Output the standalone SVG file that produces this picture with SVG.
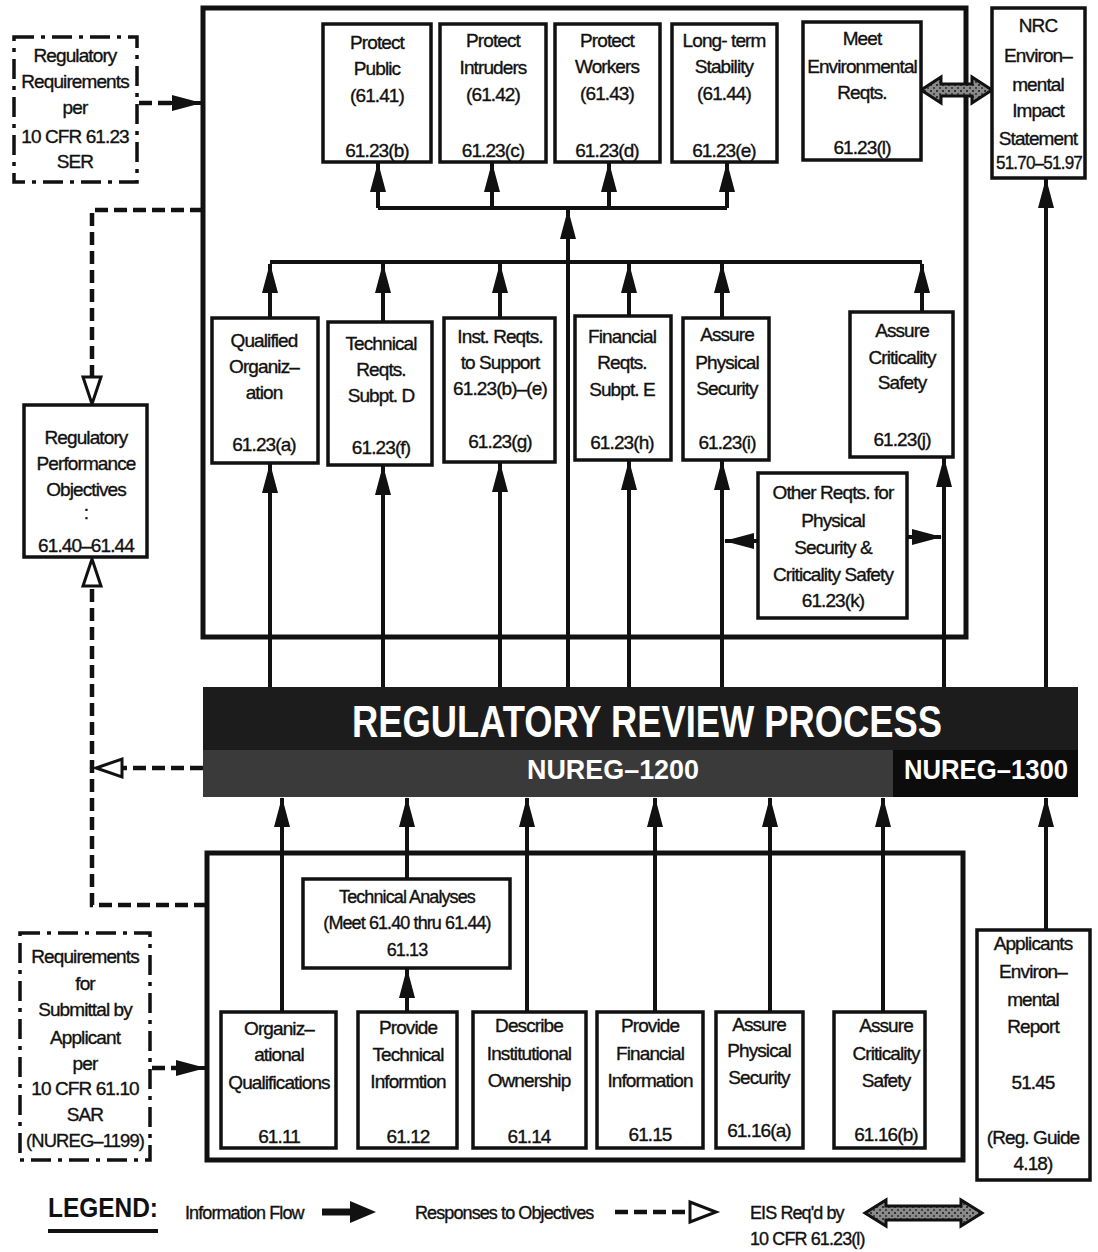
<svg xmlns="http://www.w3.org/2000/svg" width="1098" height="1252" viewBox="0 0 1098 1252">
<style>
.t{font-family:"Liberation Sans Narrow","Liberation Sans",Arial,sans-serif;font-size:19px;text-anchor:middle;fill:#111;stroke:#111;stroke-width:0.35;letter-spacing:-0.9px}
.box{fill:#fff;stroke:#111;stroke-width:3.5}
.big{fill:none;stroke:#111;stroke-width:5}
.dd{fill:#fff;stroke:#111;stroke-width:3.5;stroke-dasharray:20 7 4 7}
.ln{fill:none;stroke:#111;stroke-width:4}
.dl{fill:none;stroke:#111;stroke-width:4.5;stroke-dasharray:13 6}
.hh{fill:#fff;stroke:#111;stroke-width:3}
.eis{fill:url(#spk);stroke:#111;stroke-width:3}
.bw{font-family:"Liberation Sans",Arial,sans-serif;font-weight:bold;fill:#fff;text-anchor:middle}
</style>
<defs>
<marker id="ah" markerUnits="userSpaceOnUse" viewBox="0 0 30 16" markerWidth="30" markerHeight="16" refX="29" refY="8" orient="auto">
<path d="M0,0 L30,8 L0,16 z" fill="#111"/>
</marker>
<pattern id="spk" width="6" height="6" patternUnits="userSpaceOnUse">
<rect width="6" height="6" fill="#8a8a8a"/>
<rect x="0" y="0" width="2" height="2" fill="#333"/>
<rect x="3" y="3" width="2" height="2" fill="#444"/>
</pattern>
</defs>
<rect width="1098" height="1252" fill="#fff"/>

<rect id="upper-frame" class="big" x="203" y="8" width="763" height="629"/>
<rect id="lower-frame" class="big" x="207" y="853" width="756" height="307"/>

<g id="connectors">
<line class="ln" x1="378" y1="208" x2="727" y2="208"/>
<line class="ln" x1="378" y1="208" x2="378" y2="163" marker-end="url(#ah)"/>
<line class="ln" x1="492" y1="208" x2="492" y2="163" marker-end="url(#ah)"/>
<line class="ln" x1="609" y1="208" x2="609" y2="163" marker-end="url(#ah)"/>
<line class="ln" x1="727" y1="208" x2="727" y2="163" marker-end="url(#ah)"/>
<line class="ln" x1="568" y1="687" x2="568" y2="210" marker-end="url(#ah)"/>
<line class="ln" x1="270" y1="262" x2="922" y2="262"/>
<line class="ln" x1="270" y1="318" x2="270" y2="264" marker-end="url(#ah)"/>
<line class="ln" x1="383" y1="322" x2="383" y2="264" marker-end="url(#ah)"/>
<line class="ln" x1="500" y1="318" x2="500" y2="264" marker-end="url(#ah)"/>
<line class="ln" x1="629" y1="316" x2="629" y2="264" marker-end="url(#ah)"/>
<line class="ln" x1="722" y1="318" x2="722" y2="264" marker-end="url(#ah)"/>
<line class="ln" x1="922" y1="312" x2="922" y2="264" marker-end="url(#ah)"/>
<line class="ln" x1="270" y1="687" x2="270" y2="464" marker-end="url(#ah)"/>
<line class="ln" x1="383" y1="687" x2="383" y2="466" marker-end="url(#ah)"/>
<line class="ln" x1="500" y1="687" x2="500" y2="463" marker-end="url(#ah)"/>
<line class="ln" x1="629" y1="687" x2="629" y2="461" marker-end="url(#ah)"/>
<line class="ln" x1="722" y1="687" x2="722" y2="461" marker-end="url(#ah)"/>
<line class="ln" x1="944" y1="687" x2="944" y2="458" marker-end="url(#ah)"/>
<line class="ln" x1="1046" y1="687" x2="1046" y2="179" marker-end="url(#ah)"/>
<line class="ln" x1="758" y1="541" x2="725" y2="541" marker-end="url(#ah)"/>
<line class="ln" x1="907" y1="537" x2="941" y2="537" marker-end="url(#ah)"/>
<line class="ln" x1="282" y1="1012" x2="282" y2="798" marker-end="url(#ah)"/>
<line class="ln" x1="407" y1="879" x2="407" y2="798" marker-end="url(#ah)"/>
<line class="ln" x1="407" y1="1012" x2="407" y2="969" marker-end="url(#ah)"/>
<line class="ln" x1="527" y1="1012" x2="527" y2="798" marker-end="url(#ah)"/>
<line class="ln" x1="655" y1="1012" x2="655" y2="798" marker-end="url(#ah)"/>
<line class="ln" x1="770" y1="1012" x2="770" y2="798" marker-end="url(#ah)"/>
<line class="ln" x1="883" y1="1012" x2="883" y2="798" marker-end="url(#ah)"/>
<line class="ln" x1="1046" y1="930" x2="1046" y2="798" marker-end="url(#ah)"/>
<line class="dl" x1="139" y1="103" x2="172" y2="103"/>
<line class="ln" x1="170" y1="103" x2="201" y2="103" marker-end="url(#ah)"/>
<path class="dl" d="M203,210 L92,210 L92,377"/>
<polygon class="hh" points="83,377 101,377 92,404"/>
<path class="dl" d="M207,905 L92,905 L92,586"/>
<polygon class="hh" points="83,586 101,586 92,559"/>
<line class="dl" x1="203" y1="768" x2="122" y2="768"/>
<polygon class="hh" points="122,759 122,777 96,768"/>
<line class="dl" x1="152" y1="1068" x2="180" y2="1068"/>
<line class="ln" x1="178" y1="1068" x2="205" y2="1068" marker-end="url(#ah)"/>
<polygon class="eis" points="921,90 941,77 941,84 972,84 972,77 992,90 972,103 972,96 941,96 941,103"/>
</g>

<g id="reg-req">
<rect class="dd" x="14" y="37" width="123" height="145"/>
<text class="t" x="75" y="62">Regulatory</text>
<text class="t" x="75" y="88">Requirements</text>
<text class="t" x="75" y="114">per</text>
<text class="t" x="75" y="143">10 CFR 61.23</text>
<text class="t" x="75" y="168">SER</text>
</g>

<g id="protect-public">
<rect class="box" x="323" y="24" width="108" height="138"/>
<text class="t" x="377" y="49">Protect</text>
<text class="t" x="377" y="75">Public</text>
<text class="t" x="377" y="102">(61.41)</text>
<text class="t" x="377" y="157">61.23(b)</text>
</g>
<g id="protect-intruders">
<rect class="box" x="440" y="24" width="106" height="138"/>
<text class="t" x="493" y="47">Protect</text>
<text class="t" x="493" y="74">Intruders</text>
<text class="t" x="493" y="101">(61.42)</text>
<text class="t" x="493" y="157">61.23(c)</text>
</g>
<g id="protect-workers">
<rect class="box" x="555" y="24" width="105" height="138"/>
<text class="t" x="607" y="47">Protect</text>
<text class="t" x="607" y="73">Workers</text>
<text class="t" x="607" y="100">(61.43)</text>
<text class="t" x="607" y="157">61.23(d)</text>
</g>
<g id="long-term">
<rect class="box" x="672" y="24" width="105" height="138"/>
<text class="t" x="724" y="47">Long- term</text>
<text class="t" x="724" y="73">Stability</text>
<text class="t" x="724" y="100">(61.44)</text>
<text class="t" x="724" y="157">61.23(e)</text>
</g>
<g id="meet-env">
<rect class="box" x="803" y="22" width="118" height="138"/>
<text class="t" x="862" y="45">Meet</text>
<text class="t" x="862" y="73">Environmental</text>
<text class="t" x="862" y="99">Reqts.</text>
<text class="t" x="862" y="154">61.23(l)</text>
</g>
<g id="nrc-eis">
<rect class="box" x="992" y="8" width="93" height="170"/>
<text class="t" x="1038" y="32">NRC</text>
<text class="t" x="1038" y="62">Environ–</text>
<text class="t" x="1038" y="91">mental</text>
<text class="t" x="1038" y="117">Impact</text>
<text class="t" x="1038" y="145">Statement</text>
<text class="t" x="1039" y="169" textLength="86" lengthAdjust="spacingAndGlyphs">51.70–51.97</text>
</g>

<g id="reg-perf">
<rect class="box" x="24" y="405" width="123" height="152"/>
<text class="t" x="86" y="444">Regulatory</text>
<text class="t" x="86" y="470">Performance</text>
<text class="t" x="86" y="496">Objectives</text>
<text class="t" x="86" y="519">:</text>
<text class="t" x="86" y="552">61.40–61.44</text>
</g>

<g id="qualified-org">
<rect class="box" x="212" y="318" width="106" height="145"/>
<text class="t" x="264" y="347">Qualified</text>
<text class="t" x="264" y="373">Organiz–</text>
<text class="t" x="264" y="399">ation</text>
<text class="t" x="264" y="451">61.23(a)</text>
</g>
<g id="technical-reqts">
<rect class="box" x="328" y="322" width="104" height="143"/>
<text class="t" x="381" y="350">Technical</text>
<text class="t" x="381" y="376">Reqts.</text>
<text class="t" x="381" y="402">Subpt. D</text>
<text class="t" x="381" y="454">61.23(f)</text>
</g>
<g id="inst-reqts">
<rect class="box" x="444" y="318" width="111" height="144"/>
<text class="t" x="500" y="343">Inst. Reqts.</text>
<text class="t" x="500" y="369">to Support</text>
<text class="t" x="500" y="395">61.23(b)–(e)</text>
<text class="t" x="500" y="448">61.23(g)</text>
</g>
<g id="financial-reqts">
<rect class="box" x="575" y="316" width="96" height="144"/>
<text class="t" x="622" y="343">Financial</text>
<text class="t" x="622" y="369">Reqts.</text>
<text class="t" x="622" y="396">Subpt. E</text>
<text class="t" x="622" y="449">61.23(h)</text>
</g>
<g id="assure-phys">
<rect class="box" x="683" y="318" width="86" height="142"/>
<text class="t" x="727" y="341">Assure</text>
<text class="t" x="727" y="369">Physical</text>
<text class="t" x="727" y="395">Security</text>
<text class="t" x="727" y="449">61.23(i)</text>
</g>
<g id="assure-crit">
<rect class="box" x="850" y="312" width="103" height="145"/>
<text class="t" x="902" y="337">Assure</text>
<text class="t" x="902" y="364">Criticality</text>
<text class="t" x="902" y="389">Safety</text>
<text class="t" x="902" y="446">61.23(j)</text>
</g>
<g id="other-reqts">
<rect class="box" x="758" y="473" width="149" height="145"/>
<text class="t" x="833" y="499">Other Reqts. for</text>
<text class="t" x="833" y="527">Physical</text>
<text class="t" x="833" y="554">Security &amp;</text>
<text class="t" x="833" y="581">Criticality Safety</text>
<text class="t" x="833" y="607">61.23(k)</text>
</g>

<g id="review-process">
<rect x="203" y="687" width="875" height="110" fill="#1c1c1c"/>
<rect x="203" y="750" width="690" height="47" fill="#3a3a3a"/>
<rect x="893" y="750" width="185" height="47" fill="#0c0c0c"/>
<text class="bw" x="647" y="737" textLength="590" lengthAdjust="spacingAndGlyphs" style="font-size:44px">REGULATORY REVIEW PROCESS</text>
<text class="bw" x="613" y="779" textLength="172" lengthAdjust="spacingAndGlyphs" style="font-size:28px">NUREG–1200</text>
<text class="bw" x="986" y="779" textLength="164" lengthAdjust="spacingAndGlyphs" style="font-size:28px">NUREG–1300</text>
</g>

<g id="tech-analyses">
<rect class="box" x="303" y="879" width="207" height="89"/>
<text class="t" x="407" y="903" style="font-size:18px">Technical Analyses</text>
<text class="t" x="407" y="929" style="font-size:18px">(Meet 61.40 thru 61.44)</text>
<text class="t" x="407" y="956" style="font-size:18px">61.13</text>
</g>

<g id="org-qual">
<rect class="box" x="221" y="1012" width="115" height="136"/>
<text class="t" x="279" y="1035">Organiz–</text>
<text class="t" x="279" y="1061">ational</text>
<text class="t" x="279" y="1089">Qualifications</text>
<text class="t" x="279" y="1143">61.11</text>
</g>
<g id="prov-tech">
<rect class="box" x="358" y="1012" width="99" height="136"/>
<text class="t" x="408" y="1034">Provide</text>
<text class="t" x="408" y="1061">Technical</text>
<text class="t" x="408" y="1088">Informtion</text>
<text class="t" x="408" y="1143">61.12</text>
</g>
<g id="describe-inst">
<rect class="box" x="473" y="1012" width="113" height="136"/>
<text class="t" x="529" y="1032">Describe</text>
<text class="t" x="529" y="1060">Institutional</text>
<text class="t" x="529" y="1087">Ownership</text>
<text class="t" x="529" y="1143">61.14</text>
</g>
<g id="prov-fin">
<rect class="box" x="597" y="1012" width="106" height="136"/>
<text class="t" x="650" y="1032">Provide</text>
<text class="t" x="650" y="1060">Financial</text>
<text class="t" x="650" y="1087">Information</text>
<text class="t" x="650" y="1141">61.15</text>
</g>
<g id="assure-phys-2">
<rect class="box" x="716" y="1012" width="87" height="136"/>
<text class="t" x="759" y="1031">Assure</text>
<text class="t" x="759" y="1057">Physical</text>
<text class="t" x="759" y="1084">Security</text>
<text class="t" x="759" y="1137">61.16(a)</text>
</g>
<g id="assure-crit-2">
<rect class="box" x="834" y="1012" width="91" height="136"/>
<text class="t" x="886" y="1032">Assure</text>
<text class="t" x="886" y="1060">Criticality</text>
<text class="t" x="886" y="1087">Safety</text>
<text class="t" x="886" y="1141">61.16(b)</text>
</g>

<g id="applicant-env">
<rect class="box" x="977" y="930" width="113" height="250"/>
<text class="t" x="1033" y="950">Applicants</text>
<text class="t" x="1033" y="978">Environ–</text>
<text class="t" x="1033" y="1006">mental</text>
<text class="t" x="1033" y="1033">Report</text>
<text class="t" x="1033" y="1089">51.45</text>
<text class="t" x="1033" y="1144">(Reg. Guide</text>
<text class="t" x="1033" y="1170">4.18)</text>
</g>

<g id="req-submittal">
<rect class="dd" x="20" y="933" width="130" height="227"/>
<text class="t" x="85" y="963">Requirements</text>
<text class="t" x="85" y="990">for</text>
<text class="t" x="85" y="1016">Submittal by</text>
<text class="t" x="85" y="1044">Applicant</text>
<text class="t" x="85" y="1070">per</text>
<text class="t" x="85" y="1095">10 CFR 61.10</text>
<text class="t" x="85" y="1121">SAR</text>
<text class="t" x="85" y="1147" textLength="118" lengthAdjust="spacingAndGlyphs">(NUREG–1199)</text>
</g>

<g id="legend">
<text x="103" y="1217" textLength="110" lengthAdjust="spacingAndGlyphs" style="font-family:'Liberation Sans',Arial,sans-serif;font-weight:bold;font-size:28px;fill:#111;text-anchor:middle">LEGEND:</text>
<line x1="48" y1="1231" x2="158" y2="1231" stroke="#111" stroke-width="4"/>
<text class="t" x="185" y="1219" style="text-anchor:start;font-size:18px">Information Flow</text>
<line x1="322" y1="1212" x2="352" y2="1212" stroke="#111" stroke-width="7"/>
<polygon points="350,1201 376,1212 350,1223" fill="#111"/>
<text class="t" x="415" y="1219" style="text-anchor:start;font-size:18px">Responses to Objectives</text>
<line class="dl" x1="615" y1="1212" x2="690" y2="1212"/>
<polygon class="hh" points="690,1202 690,1222 716,1212"/>
<text class="t" x="750" y="1219" style="text-anchor:start;font-size:18px">EIS Req'd by</text>
<text class="t" x="750" y="1245" style="text-anchor:start;font-size:18px">10 CFR 61.23(l)</text>
<polygon class="eis" points="865,1213 886,1200 886,1206 961,1206 961,1200 982,1213 961,1226 961,1220 886,1220 886,1226"/>
</g>
</svg>
